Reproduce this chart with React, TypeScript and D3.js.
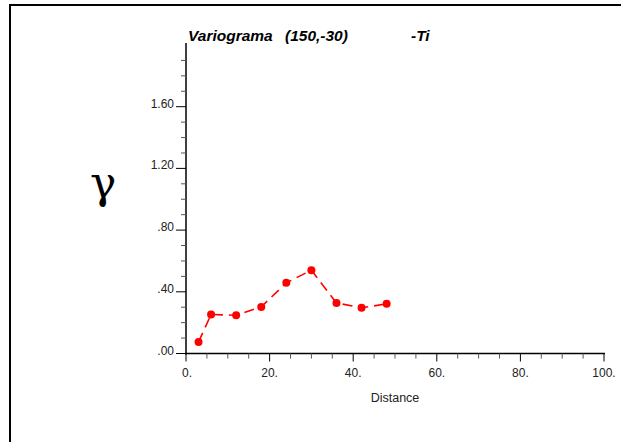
import React from 'react';
import * as d3 from 'd3';

// lag distances and variogram values
const lags = [3, 6, 12, 18, 24, 30, 36, 42, 48];
const gammas = [0.075, 0.253, 0.248, 0.302, 0.458, 0.54, 0.328, 0.296, 0.322];

const yMajor = [0, 0.4, 0.8, 1.2, 1.6];
const yMajorLabels = ['.00', '.40', '.80', '1.20', '1.60'];
const xMajor = [0, 20, 40, 60, 80, 100];
const xMajorLabels = ['0.', '20.', '40.', '60.', '80.', '100.'];

const titleParts = ['Variograma', '(150,-30)', '-Ti'];

const W = 621;
const H = 442;

const App: React.FC = () => {
    const x = d3.scaleLinear().domain([0, 100]).range([186, 604]);
    const y = d3.scaleLinear().domain([0, 2.0]).range([353.5, 45]);

    const yMinor = d3.range(0, 20).map(i => i / 10).filter(v => !yMajor.some(m => Math.abs(m - v) < 1e-6));
    const xMinor = d3.range(0, 101, 5).filter(v => !xMajor.includes(v));

    const line = d3.line<number>()
        .x((_, i) => x(lags[i]))
        .y(d => y(d));

    const font = '"Liberation Sans", Arial, sans-serif';
    const titleX = [188, 285, 411];

    return (
        <svg width={W} height={H} style={{ position: 'absolute', left: 0, top: 0, background: '#fff' }}>
            <rect x={0} y={0} width={W} height={H} fill="#fff" />
            {/* frame */}
            <rect x={10} y={5} width={640} height={460} fill="none" stroke="#000" strokeWidth={2} />

            {/* title */}
            {titleParts.map((t, i) => (
                <text key={t} x={titleX[i]} y={41} fontFamily={font} fontSize={15.5} fontWeight="bold" fontStyle="italic">
                    {t}
                </text>
            ))}

            {/* gamma label */}
            <text x={90} y={198} fontFamily='"DejaVu Serif", "Liberation Serif", serif' fontSize={44}>γ</text>

            {/* y axis */}
            <line x1={x(0)} x2={x(0)} y1={y(0) + 1} y2={y(2.0) - 2} stroke="#000" strokeWidth={1.5} />
            {yMinor.map(v => (
                <line key={'ym' + v} x1={x(0) - 5} x2={x(0)} y1={y(v)} y2={y(v)} stroke="#555" strokeWidth={1} />
            ))}
            {yMajor.map((v, i) => (
                <g key={'yM' + v}>
                    <line x1={x(0) - 10} x2={x(0)} y1={y(v)} y2={y(v)} stroke="#000" strokeWidth={1} />
                    <text x={174} y={y(v) + 1} textAnchor="end" fontFamily={font} fontSize={12} fill="#222">
                        {yMajorLabels[i]}
                    </text>
                </g>
            ))}

            {/* x axis */}
            <line x1={x(0) - 1} x2={x(100) + 1} y1={y(0)} y2={y(0)} stroke="#000" strokeWidth={1.5} />
            {xMinor.map(v => (
                <line key={'xm' + v} x1={x(v)} x2={x(v)} y1={y(0)} y2={y(0) + 5} stroke="#555" strokeWidth={1} />
            ))}
            {xMajor.map((v, i) => (
                <g key={'xM' + v}>
                    <line x1={x(v)} x2={x(v)} y1={y(0)} y2={y(0) + 8} stroke="#000" strokeWidth={1} />
                    <text x={x(v) + (v === 0 ? 1 : 0)} y={377} textAnchor="middle" fontFamily={font} fontSize={12} fill="#222">
                        {xMajorLabels[i]}
                    </text>
                </g>
            ))}
            <text x={x(50)} y={402} textAnchor="middle" fontFamily={font} fontSize={12.5} fill="#222">Distance</text>

            {/* variogram */}
            <path d={line(gammas) || ''} fill="none" stroke="#ff0000" strokeWidth={1.6} strokeDasharray="10,6" />
            {gammas.map((g, i) => (
                <circle key={'p' + i} cx={x(lags[i])} cy={y(g)} r={4} fill="#ff0000" />
            ))}
        </svg>
    );
};

export default App;
